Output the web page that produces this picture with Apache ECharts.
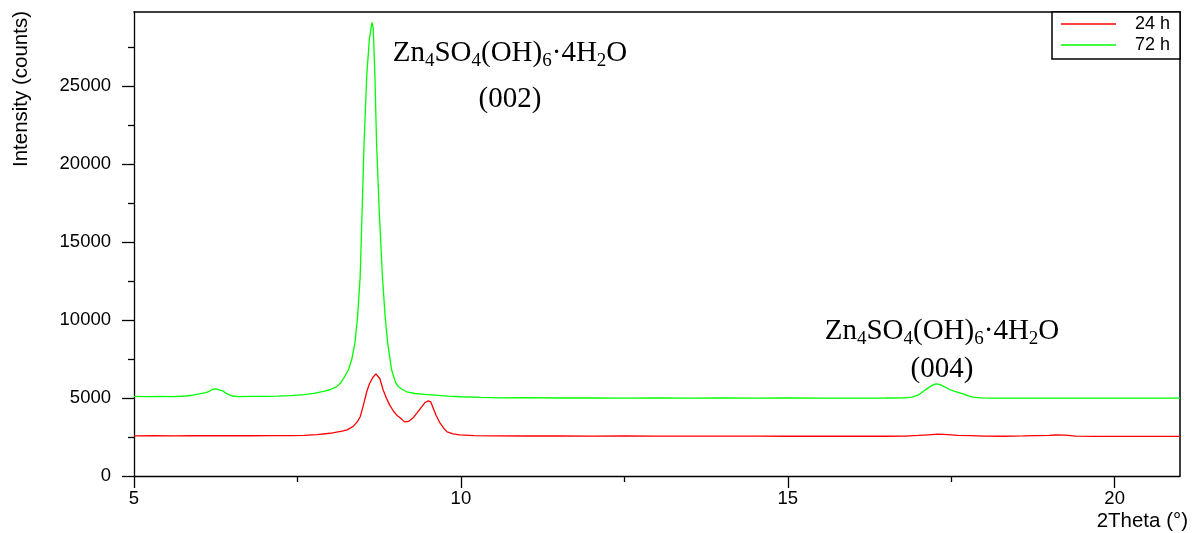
<!DOCTYPE html>
<html>
<head>
<meta charset="utf-8">
<script src="https://cdn.jsdelivr.net/npm/echarts@6/dist/echarts.min.js"></script>
<style>html,body{margin:0;padding:0;background:#fff}#c{width:1196px;height:533px}</style>
</head>
<body>
<div id="c"></div>
<script>
// ---- data ----
const seriesNames = ['24 h', '72 h'];
const xTickLabels = [5, 10, 15, 20];
const xMinorTicks = [7.5, 12.5, 17.5];
const yTickLabels = [0, 5000, 10000, 15000, 20000, 25000];
const yMinorTicks = [2500, 7500, 12500, 17500, 22500, 27500];

const theta24 = [5.0,5.3,5.6,5.9,6.2,6.5,6.8,7.1,7.4,7.6,7.8,8.0,8.1,8.2,8.26,8.32,8.36,8.42,8.46,8.5,8.56,8.6,8.65,8.7,8.72,8.76,8.81,8.86,8.91,8.97,9.02,9.07,9.14,9.2,9.27,9.33,9.4,9.45,9.5,9.54,9.57,9.62,9.68,9.74,9.79,9.88,9.98,10.2,10.5,11,11.5,12,12.5,13,13.5,14,14.5,15,15.5,16,16.5,16.8,17.0,17.15,17.3,17.45,17.6,17.8,18.0,18.3,18.6,18.8,19.0,19.1,19.25,19.4,19.7,20,20.5,21];
const counts24 = [2570,2580,2575,2590,2580,2585,2580,2590,2595,2610,2650,2740,2820,2900,2960,3100,3210,3500,3800,4400,5400,5900,6300,6550,6600,6250,5530,5000,4560,4150,3900,3730,3470,3500,3730,4050,4430,4700,4820,4750,4430,3900,3400,3050,2830,2700,2640,2590,2570,2565,2570,2560,2565,2555,2560,2555,2560,2550,2555,2550,2550,2560,2600,2640,2680,2650,2610,2590,2560,2550,2570,2590,2610,2630,2620,2560,2545,2540,2540,2535];

const theta72 = [5.0,5.2,5.4,5.6,5.8,5.9,6.0,6.1,6.15,6.2,6.25,6.3,6.35,6.4,6.45,6.5,6.6,6.8,7.0,7.2,7.4,7.6,7.75,7.9,8.0,8.1,8.16,8.22,8.28,8.33,8.38,8.42,8.46,8.49,8.52,8.56,8.6,8.64,8.66,8.685,8.71,8.75,8.8,8.84,8.88,8.94,9.0,9.04,9.1,9.17,9.3,9.45,9.6,9.8,10.0,10.3,10.6,11,11.5,12,12.5,13,13.5,14,14.5,15,15.5,16,16.5,16.8,16.9,17.0,17.07,17.15,17.22,17.27,17.32,17.4,17.48,17.58,17.68,17.76,17.83,17.95,18.14,18.5,19,19.5,20,20.5,21];
const counts72 = [5100,5090,5110,5095,5130,5180,5260,5340,5420,5560,5590,5520,5480,5330,5220,5130,5090,5110,5100,5120,5150,5220,5300,5420,5530,5730,5960,6350,6810,7450,8550,10200,12810,17100,21400,25660,28000,29090,28700,25660,21400,17100,12810,10300,8550,6810,6000,5740,5560,5400,5290,5230,5190,5120,5080,5040,5010,5020,5000,5010,4995,5005,4990,5000,4995,5000,4990,4995,5000,5010,5060,5200,5420,5650,5850,5910,5870,5720,5530,5400,5270,5140,5060,5010,4990,4995,4990,4995,4990,4990,4990];

const pairs = (xs, ys) => xs.map((x, i) => [x, ys[i]]);

const chart = echarts.init(document.getElementById('c'));
const SANS = '"Liberation Sans", Arial, sans-serif';
const SERIF = '"Liberation Serif", "Times New Roman", serif';
const lineCol = '#000';

function formula(x, y1, y2, hkl) {
  return [
    {
      type: 'text', x: x, y: y1, z: 100,
      style: {
        text: '{n|Zn}{s|4}{n|SO}{s|4}{n|(OH)}{s|6}{n|·4H}{s|2}{n|O}',
        align: 'center', verticalAlign: 'middle',
        rich: {
          n: { fontFamily: SERIF, fontSize: 29, lineHeight: 32, fill: '#000', verticalAlign: 'top' },
          s: { fontFamily: SERIF, fontSize: 19, lineHeight: 19, padding: [13, 0, 0, 0], fill: '#000', verticalAlign: 'top' }
        }
      }
    },
    {
      type: 'text', x: x, y: y2, z: 100,
      style: { text: hkl, font: '29px ' + SERIF, fill: '#000', align: 'center', verticalAlign: 'middle' }
    }
  ];
}

const option = {
  animation: false,
  backgroundColor: '#fff',
  grid: { left: 134, right: 16, top: 12, bottom: 57, containLabel: false },
  legend: {
    data: seriesNames.map(n => ({ name: n, icon: 'rect' })),
    orient: 'vertical',
    left: 1052, top: 12,
    padding: [3, 10, 5, 9],
    itemWidth: 55, itemHeight: 1.5, itemGap: 3,
    borderColor: '#000', borderWidth: 1.5, borderRadius: 0,
    backgroundColor: '#fff',
    textStyle: { fontFamily: SANS, fontSize: 18, lineHeight: 18, color: '#000', padding: [0, 0, 0, 14] },
    z: 50
  },
  xAxis: [
    {
      type: 'value', min: 5, max: 21, interval: 5, position: 'bottom',
      axisLine: { show: true, onZero: false, lineStyle: { color: lineCol, width: 1.3 } },
      axisTick: { show: true, inside: false, length: 12, customValues: xTickLabels, lineStyle: { color: lineCol, width: 1.3 } },
      axisLabel: { customValues: xTickLabels, margin: 13, fontFamily: SANS, fontSize: 18.5, color: '#000' },
      splitLine: { show: false }
    },
    {
      type: 'value', min: 5, max: 21, position: 'bottom',
      axisLine: { show: false },
      axisTick: { show: true, length: 6, customValues: xMinorTicks, lineStyle: { color: lineCol, width: 1.3 } },
      axisLabel: { show: false },
      splitLine: { show: false }
    },
    {
      type: 'value', min: 5, max: 21, position: 'top',
      axisLine: { show: true, onZero: false, lineStyle: { color: lineCol, width: 1.5 } },
      axisTick: { show: false }, axisLabel: { show: false }, splitLine: { show: false }
    }
  ],
  yAxis: [
    {
      type: 'value', min: 0, max: 29750, interval: 5000, position: 'left',
      axisLine: { show: true, onZero: false, lineStyle: { color: lineCol, width: 1.3 } },
      axisTick: { show: true, length: 12, customValues: yTickLabels, lineStyle: { color: lineCol, width: 1.3 } },
      axisLabel: { customValues: yTickLabels, formatter: v => String(v), margin: 23, fontFamily: SANS, fontSize: 18.5, color: '#000' },
      splitLine: { show: false }
    },
    {
      type: 'value', min: 0, max: 29750, position: 'left',
      axisLine: { show: false },
      axisTick: { show: true, length: 6, customValues: yMinorTicks, lineStyle: { color: lineCol, width: 1.3 } },
      axisLabel: { show: false },
      splitLine: { show: false }
    },
    {
      type: 'value', min: 0, max: 29750, position: 'right',
      axisLine: { show: true, onZero: false, lineStyle: { color: lineCol, width: 1.5 } },
      axisTick: { show: false }, axisLabel: { show: false }, splitLine: { show: false }
    }
  ],
  series: [
    {
      name: seriesNames[0], type: 'line', xAxisIndex: 0, yAxisIndex: 0,
      data: pairs(theta24, counts24), symbol: 'none', smooth: false,
      color: '#ff0000', lineStyle: { color: '#ff0000', width: 1.3 }
    },
    {
      name: seriesNames[1], type: 'line', xAxisIndex: 0, yAxisIndex: 0,
      data: pairs(theta72, counts72), symbol: 'none', smooth: false,
      color: '#00ff00', lineStyle: { color: '#00ff00', width: 1.3 }
    }
  ],
  graphic: [
    {
      type: 'text', x: 21, y: 89, rotation: Math.PI / 2,
      style: { text: 'Intensity (counts)', font: '20.5px ' + SANS, fill: '#000', align: 'center', verticalAlign: 'middle' }
    },
    {
      type: 'text', x: 1188, y: 521,
      style: { text: '2Theta (°)', font: '20.5px ' + SANS, fill: '#000', align: 'right', verticalAlign: 'middle' }
    }
  ].concat(formula(510, 55, 99, '(002)'), formula(942, 333, 369, '(004)'))
};
chart.setOption(option);
</script>
</body>
</html>
